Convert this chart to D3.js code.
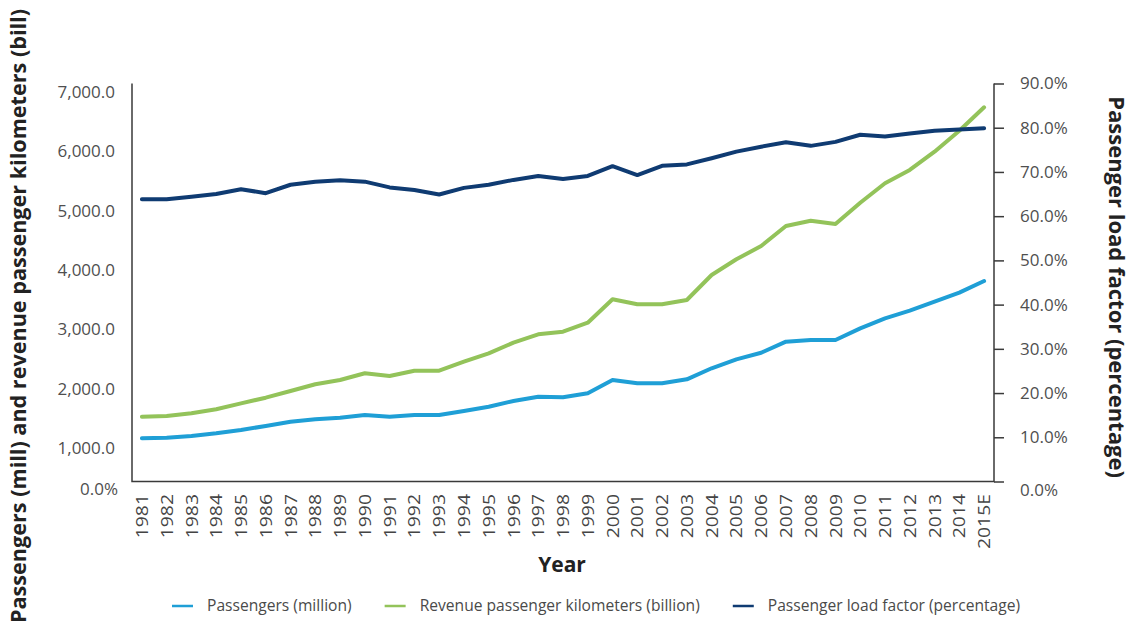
<!DOCTYPE html>
<html>
<head>
<meta charset="utf-8">
<script src="https://cdn.jsdelivr.net/npm/d3@7"></script>
<style>
  body { margin: 0; background: #fff; }
  svg { display: block; font-family: "Open Sans", "DejaVu Sans", sans-serif; }
</style>
</head>
<body>
<svg id="chart" width="1133" height="630"></svg>
<script>
// Years on the category axis (last one is an estimate)
const yearLabels = ["1981","1982","1983","1984","1985","1986","1987","1988","1989","1990",
  "1991","1992","1993","1994","1995","1996","1997","1998","1999","2000",
  "2001","2002","2003","2004","2005","2006","2007","2008","2009","2010",
  "2011","2012","2013","2014","2015E"];

// Passengers, million
const passengers = [760,770,800,848,906,976,1052,1094,1122,1170,
  1140,1170,1170,1240,1316,1416,1491,1483,1551,1785,
  1727,1727,1797,1991,2149,2265,2459,2489,2489,2694,
  2870,3004,3162,3321,3526];

// Revenue passenger kilometres, billion
const rpk = [1140,1152,1199,1270,1375,1474,1592,1710,1785,1903,
  1856,1949,1949,2107,2255,2441,2589,2635,2793,3205,
  3117,3117,3192,3632,3908,4142,4494,4587,4529,4903,
  5245,5479,5800,6170,6581];

// Passenger load factor, percent
const loadFactor = [63.8,63.8,64.4,65.0,66.1,65.2,67.1,67.8,68.1,67.8,
  66.5,65.9,64.9,66.4,67.1,68.2,69.1,68.4,69.1,71.3,
  69.3,71.4,71.7,73.1,74.6,75.7,76.7,75.9,76.8,78.4,
  78.0,78.7,79.3,79.6,79.9];

const leftTicks = [1000,2000,3000,4000,5000,6000,7000];
const leftZeroLabel = "0.0%";
const rightTicks = [0,10,20,30,40,50,60,70,80,90];

const seriesNames = ["Passengers (million)", "Revenue passenger kilometers (billion)", "Passenger load factor (percentage)"];
const seriesColors = ["#1f9fd6", "#93c35a", "#0f3b72"];

const svg = d3.select("#chart");

const plot = { left: 132, right: 994, top: 83.5, bottom: 481.5 };

const x = d3.scalePoint().domain(yearLabels).range([plot.left, plot.right]).padding(0.4);
const yLeft = d3.scaleLinear().domain([0, 7000]).range([plot.bottom, plot.top]);
const yRight = d3.scaleLinear().domain([0, 90]).range([plot.bottom, plot.top]);
// placement of the left-hand tick captions
const yLeftLabel = d3.scaleLinear().domain([1000, 7000]).range([448, 92]);

const fmtLeft = d3.format(",.1f");

// left captions
const gL = svg.append("g").attr("transform", `translate(${plot.left},0)`)
  .call(d3.axisLeft(yLeftLabel).tickValues(leftTicks).tickSize(0).tickPadding(17).tickFormat(fmtLeft));
gL.select(".domain").remove();
gL.selectAll("text").attr("font-size", 17).attr("fill", "#4f4f4f").attr("font-family", "Open Sans");
gL.append("text").attr("x", -14).attr("y", 490).attr("dy", "0.32em")
  .attr("text-anchor", "end").attr("font-size", 17).attr("fill", "#4f4f4f")
  .attr("font-family", "Open Sans").text(leftZeroLabel);

// right axis
const gR = svg.append("g").attr("transform", `translate(${plot.right},0)`)
  .call(d3.axisRight(yRight).tickValues(rightTicks).tickSize(10).tickPadding(16).tickFormat(d => d.toFixed(1) + "%"));
gR.select(".domain").remove();
gR.selectAll("line").attr("stroke", "#3a3a3a").attr("stroke-width", 1.5);
gR.selectAll("text").attr("font-size", 17).attr("fill", "#4f4f4f").attr("font-family", "Open Sans");
gR.selectAll(".tick").filter(d => d === 0).select("text").attr("dy", "0.85em");

// bottom category captions
const gX = svg.append("g").attr("transform", `translate(0,${plot.bottom})`)
  .call(d3.axisBottom(x).tickSize(0));
gX.select(".domain").remove();
gX.selectAll("text")
  .attr("transform", "rotate(-90) scale(1.25,1)")
  .attr("text-anchor", "end")
  .attr("x", -10).attr("y", 0).attr("dy", "0.36em")
  .attr("font-size", 15.5).attr("fill", "#444").attr("font-family", "Open Sans");

// frame
svg.append("path")
  .attr("d", `M${plot.left},${plot.top} V${plot.bottom} H${plot.right} V${plot.top}`)
  .attr("fill", "none").attr("stroke", "#3a3a3a").attr("stroke-width", 1.5);

// series lines
const lineL = d3.line().x((d, i) => x(yearLabels[i])).y(d => yLeft(d));
const lineR = d3.line().x((d, i) => x(yearLabels[i])).y(d => yRight(d));

const series = [
  { values: passengers, gen: lineL, color: seriesColors[0] },
  { values: rpk, gen: lineL, color: seriesColors[1] },
  { values: loadFactor, gen: lineR, color: seriesColors[2] }
];
svg.append("g").selectAll("path").data(series).join("path")
  .attr("d", s => s.gen(s.values))
  .attr("fill", "none")
  .attr("stroke", s => s.color)
  .attr("stroke-width", 4)
  .attr("stroke-linejoin", "round")
  .attr("stroke-linecap", "round");

// axis titles
svg.append("text").attr("transform", "translate(26,316) rotate(-90)")
  .attr("text-anchor", "middle").attr("font-size", 21.6).attr("font-weight", "bold")
  .attr("fill", "#222").text("Passengers (mill) and revenue passenger kilometers (bill)");
svg.append("text").attr("transform", "translate(1109,287) rotate(90)")
  .attr("text-anchor", "middle").attr("font-size", 22).attr("font-weight", "bold")
  .attr("fill", "#222").text("Passenger load factor (percentage)");
svg.append("text").attr("x", 562).attr("y", 572)
  .attr("text-anchor", "middle").attr("font-size", 21).attr("font-weight", "bold")
  .attr("fill", "#222").text("Year");

// legend
const legend = svg.append("g").attr("transform", "translate(0,606)");
let cx = 172;
seriesNames.forEach((name, i) => {
  legend.append("line").attr("x1", cx).attr("x2", cx + 21).attr("y1", 0).attr("y2", 0)
    .attr("stroke", seriesColors[i]).attr("stroke-width", 2.5);
  const t = legend.append("text").attr("x", cx + 35).attr("y", 0).attr("dy", "0.35em")
    .attr("font-size", 15.6).attr("fill", "#4a4a4a").attr("font-family", "Open Sans")
    .text(name);
  cx += 35 + t.node().getComputedTextLength() + 33;
});
</script>
</body>
</html>
